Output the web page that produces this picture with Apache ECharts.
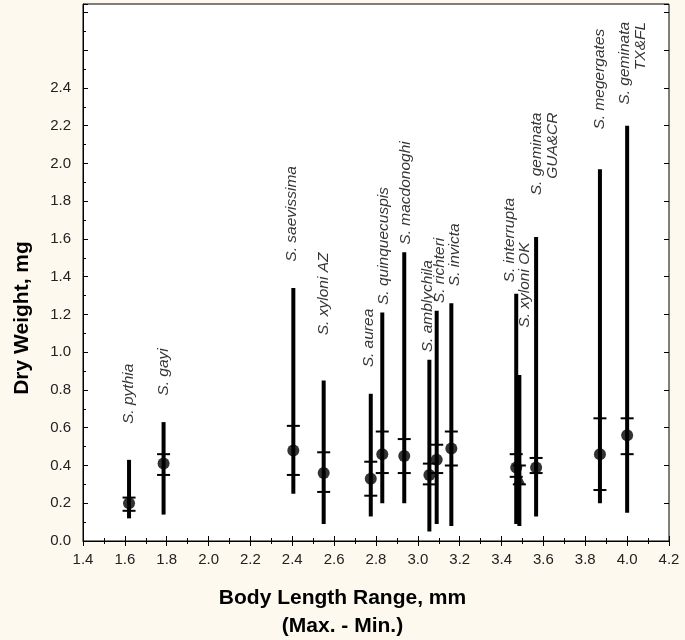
<!DOCTYPE html>
<html>
<head>
<meta charset="utf-8">
<script src="https://cdn.jsdelivr.net/npm/echarts@6/dist/echarts.min.js"></script>
<style>
  html, body { margin: 0; padding: 0; background: #fdf9ef; }
  #chart { width: 685px; height: 640px; }
</style>
</head>
<body>
<div id="chart"></div>
<script>
// species and their values
const species = ['S. pythia', 'S. gayi', 'S. saevissima', 'S. xyloni AZ', 'S. aurea', 'S. quinquecuspis',
  'S. macdonoghi', 'S. amblychila', 'S. richteri', 'S. invicta', 'S. interrupta', 'S. xyloni OK',
  'S. geminata\nGUA&CR', 'S. megergates', 'S. geminata\nTX&FL']
const bodyLength  = [1.62, 1.785, 2.405, 2.55, 2.775, 2.83, 2.935, 3.055, 3.09, 3.16, 3.47, 3.485, 3.565, 3.87, 4.00]
const weightMean  = [0.20, 0.41, 0.48, 0.36, 0.33, 0.46, 0.45, 0.35, 0.43, 0.49, 0.39, 0.33, 0.39, 0.46, 0.56]
const weightUpper = [0.23, 0.46, 0.61, 0.47, 0.42, 0.58, 0.54, 0.41, 0.51, 0.58, 0.46, 0.40, 0.44, 0.65, 0.65]
const weightLower = [0.16, 0.35, 0.35, 0.26, 0.24, 0.36, 0.36, 0.30, 0.36, 0.40, 0.34, 0.30, 0.36, 0.27, 0.46]
const weightMax   = [0.43, 0.63, 1.34, 0.85, 0.78, 1.21, 1.53, 0.96, 1.22, 1.26, 1.31, 0.88, 1.61, 1.97, 2.20]
const weightMin   = [0.12, 0.14, 0.25, 0.09, 0.13, 0.20, 0.20, 0.05, 0.09, 0.08, 0.09, 0.08, 0.13, 0.20, 0.15]
const triangleSpecies = ['S. xyloni OK']

// where each species name is written (data units)
const labelX = [1.62, 1.785, 2.395, 2.55, 2.765, 2.835, 2.94, 3.045, 3.105, 3.175, 3.44, 3.51, 3.608, 3.87, 4.025]
const labelY = [0.62, 0.77, 1.48, 1.09, 0.92, 1.25, 1.57, 1.00, 1.26, 1.35, 1.37, 1.13, 2.27, 2.18, 2.75]

const xTickLabels = ['1.4', '1.6', '1.8', '2.0', '2.2', '2.4', '2.6', '2.8', '3.0', '3.2', '3.4', '3.6', '3.8', '4.0', '4.2']
const yTickLabels = ['0.0', '0.2', '0.4', '0.6', '0.8', '1.0', '1.2', '1.4', '1.6', '1.8', '2.0', '2.2', '2.4']

const chart = echarts.init(document.getElementById('chart'))

const fontFam = '"Liberation Sans", Arial, sans-serif'
const tickStyle = { show: true, inside: true, length: 5, lineStyle: { color: '#000', width: 1 } }
const minorStyle = { show: true, splitNumber: 2, length: 3, lineStyle: { color: '#000', width: 1 } }

function renderRange(params, api) {
  const x = api.value(0)
  const top = api.coord([x, api.value(1)])
  const bot = api.coord([x, api.value(2)])
  const up  = api.coord([x, api.value(3)])
  const lo  = api.coord([x, api.value(4)])
  const half = 6.5
  return {
    type: 'group',
    children: [
      { type: 'line', shape: { x1: top[0], y1: top[1], x2: bot[0], y2: bot[1] },
        style: { stroke: '#000', lineWidth: 4 } },
      { type: 'line', shape: { x1: up[0] - half, y1: up[1], x2: up[0] + half, y2: up[1] },
        style: { stroke: '#000', lineWidth: 2 } },
      { type: 'line', shape: { x1: lo[0] - half, y1: lo[1], x2: lo[0] + half, y2: lo[1] },
        style: { stroke: '#000', lineWidth: 2 } }
    ]
  }
}

const rangeData = species.map((s, i) => [bodyLength[i], weightMax[i], weightMin[i], weightUpper[i], weightLower[i]])
const meanData = species.map((s, i) => ({
  value: [bodyLength[i], weightMean[i]],
  symbol: triangleSpecies.includes(s) ? 'triangle' : 'circle'
}))
const labelData = species.map((s, i) => {
  const multi = s.indexOf('\n') >= 0
  return {
    value: [labelX[i], labelY[i]],
    label: {
      show: true,
      formatter: s,
      position: 'inside',
      rotate: 90,
      align: multi ? 'right' : 'left',
      verticalAlign: 'middle',
      fontStyle: 'italic',
      fontSize: 15.5,
      lineHeight: 16,
      color: '#000',
      fontFamily: fontFam
    }
  }
})

chart.setOption({
  animation: false,
  backgroundColor: '#fdf9ef',
  grid: {
    left: 83, right: 16, top: 4, bottom: 99,
    show: true, backgroundColor: '#fff', borderColor: '#000', borderWidth: 1,
    outerBoundsMode: 'none'
  },
  graphic: [{
    type: 'text', left: 'center', top: 584,
    style: {
      text: 'Body Length Range, mm\n(Max. - Min.)',
      textAlign: 'center', fill: '#000', lineHeight: 28,
      font: 'bold 21px "Liberation Sans", Arial, sans-serif'
    }
  }, {
    type: 'text', x: 22, y: 318, rotation: Math.PI / 2,
    style: {
      text: 'Dry Weight, mg',
      textAlign: 'center', textVerticalAlign: 'middle', fill: '#000',
      font: 'bold 21px "Liberation Sans", Arial, sans-serif'
    }
  }],
  xAxis: [{
    type: 'value', min: 1.4, max: 4.2, interval: 0.2,
    axisLine: { show: true, lineStyle: { color: '#000' } },
    axisTick: tickStyle, minorTick: minorStyle,
    splitLine: { show: false },
    axisLabel: {
      margin: 11, fontSize: 15, color: '#222', fontFamily: fontFam,
      formatter: v => { const s = v.toFixed(1); return xTickLabels.includes(s) ? s : '' }
    }
  }, {
    type: 'value', min: 1.4, max: 4.2, interval: 0.2, position: 'top',
    axisLine: { show: false }, axisTick: tickStyle, minorTick: minorStyle,
    splitLine: { show: false }, axisLabel: { show: false }
  }],
  yAxis: [{
    type: 'value', min: 0, max: 2.845, interval: 0.2,
    axisLine: { show: true, lineStyle: { color: '#000' } },
    axisTick: tickStyle, minorTick: minorStyle,
    splitLine: { show: false },
    axisLabel: {
      margin: 12, fontSize: 15, color: '#222', fontFamily: fontFam,
      formatter: v => { const s = v.toFixed(1); return yTickLabels.includes(s) ? s : '' }
    }
  }, {
    type: 'value', min: 0, max: 2.845, interval: 0.2, position: 'right',
    axisLine: { show: false }, axisTick: tickStyle,
    splitLine: { show: false }, axisLabel: { show: false }
  }],
  series: [{
    type: 'custom',
    renderItem: renderRange,
    data: rangeData,
    encode: { x: 0, y: [1, 2, 3, 4] },
    z: 2
  }, {
    type: 'scatter',
    data: meanData,
    symbolSize: 12,
    itemStyle: { color: '#000' },
    z: 3
  }, {
    type: 'scatter',
    data: labelData,
    symbolSize: 0,
    silent: true,
    z: 4
  }]
})
</script>
</body>
</html>
